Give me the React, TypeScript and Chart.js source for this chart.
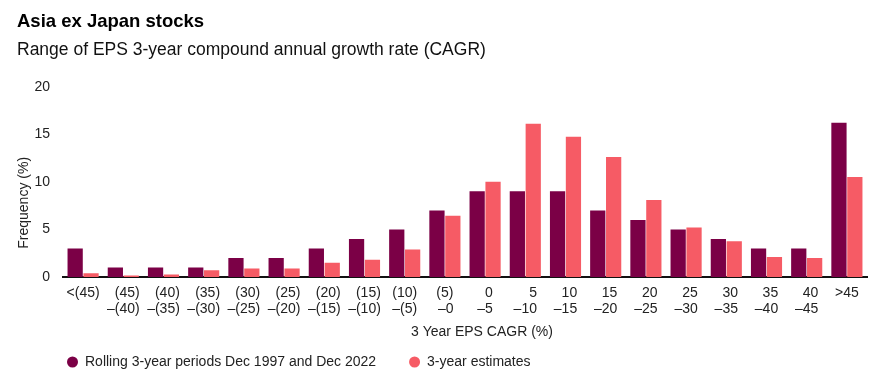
import React, { useEffect, useRef } from "react";
import { Chart, registerables } from "chart.js";

Chart.register(...registerables);

const FONT = "'Liberation Sans', Arial, Helvetica, sans-serif";

const titleText = "Asia ex Japan stocks";
const subtitleText = "Range of EPS 3-year compound annual growth rate (CAGR)";
const xAxisTitle = "3 Year EPS CAGR (%)";
const yAxisTitle = "Frequency (%)";

const categories: string[][] = [
  ["<(45)"],
  ["(45)", "–(40)"],
  ["(40)", "–(35)"],
  ["(35)", "–(30)"],
  ["(30)", "–(25)"],
  ["(25)", "–(20)"],
  ["(20)", "–(15)"],
  ["(15)", "–(10)"],
  ["(10)", "–(5)"],
  ["(5)", "–0"],
  ["0", "–5"],
  ["5", "–10"],
  ["10", "–15"],
  ["15", "–20"],
  ["20", "–25"],
  ["25", "–30"],
  ["30", "–35"],
  ["35", "–40"],
  ["40", "–45"],
  [">45"],
];

const rollingLabel = "Rolling 3-year periods Dec 1997 and Dec 2022";
const rollingValues = [3, 1, 1, 1, 2, 2, 3, 4, 5, 7, 9, 9, 9, 7, 6, 5, 4, 3, 3, 16.2];

const estimatesLabel = "3-year estimates";
const estimatesValues = [0.4, 0.15, 0.25, 0.7, 0.9, 0.9, 1.5, 1.8, 2.9, 6.45, 10, 16.1, 14.75, 12.6, 8.1, 5.2, 3.75, 2.1, 2.0, 10.5];

const yTicks = [0, 5, 10, 15, 20];

const DARK = "#7B0046";
const LIGHT = "#F65B65";
const TEXT = "#222222";

const annotatePlugin = {
  id: "annotate",
  afterDraw(chart: any) {
    const { ctx, chartArea, scales } = chart;
    const xs = scales.x;
    ctx.save();
    // x tick labels (right-aligned lines, centred block)
    ctx.font = `14px ${FONT}`;
    ctx.fillStyle = TEXT;
    ctx.textBaseline = "middle";
    ctx.textAlign = "right";
    categories.forEach((lines, i) => {
      const cx = xs.getPixelForTick(i);
      const w = Math.max(...lines.map((l) => ctx.measureText(l).width));
      lines.forEach((l, j) => {
        ctx.fillText(l, cx + w / 2, chartArea.bottom + 16 + j * 16);
      });
    });
    // x axis title
    ctx.textAlign = "center";
    ctx.fillText(xAxisTitle, (chartArea.left + chartArea.right) / 2 + 17, chartArea.bottom + 55);
    // y axis title
    ctx.save();
    ctx.translate(24, (chartArea.top + chartArea.bottom) / 2 + 21);
    ctx.rotate(-Math.PI / 2);
    ctx.fillText(yAxisTitle, 0, 0);
    ctx.restore();
    // legend
    const ly = 362;
    let lx = chartArea.left + 4;
    ctx.textAlign = "left";
    chart.data.datasets.forEach((ds: any) => {
      ctx.beginPath();
      ctx.fillStyle = ds.backgroundColor;
      ctx.arc(lx + 5.5, ly, 5.5, 0, Math.PI * 2);
      ctx.fill();
      ctx.fillStyle = TEXT;
      ctx.fillText(ds.label, lx + 18, ly);
      lx += 18 + ctx.measureText(ds.label).width + 33;
    });
    ctx.restore();
  },
};

export default function App() {
  const ref = useRef<HTMLCanvasElement>(null);
  useEffect(() => {
    if (!ref.current) return;
    const chart = new Chart(ref.current, {
      type: "bar",
      data: {
        labels: categories.map((c) => c.join(" ")),
        datasets: [
          {
            label: rollingLabel,
            data: rollingValues,
            backgroundColor: DARK,
            categoryPercentage: 0.79,
            barPercentage: 0.96,
          },
          {
            label: estimatesLabel,
            data: estimatesValues,
            backgroundColor: LIGHT,
            categoryPercentage: 0.79,
            barPercentage: 0.96,
          },
        ],
      },
      options: {
        responsive: false,
        animation: false,
        layout: { padding: { left: 17, right: 27, top: 0, bottom: 0 } },
        font: { family: FONT },
        plugins: {
          legend: { display: false },
          tooltip: { enabled: false },
          title: {
            display: true,
            text: titleText,
            align: "start",
            color: "#000",
            font: { family: FONT, size: 18.5, weight: "bold" },
            padding: { top: 10.5, bottom: 0 },
          },
          subtitle: {
            display: true,
            text: subtitleText,
            align: "start",
            color: "#111",
            font: { family: FONT, size: 17.5 },
            padding: { top: 6.5, bottom: 26.5 },
          },
        },
        scales: {
          x: {
            grid: { display: false, drawTicks: false },
            border: { display: true, color: "#111", width: 2 },
            ticks: { display: false },
            afterFit: (s: any) => {
              s.height = 105;
            },
          },
          y: {
            min: 0,
            max: 20,
            grid: { display: false, drawTicks: false },
            border: { display: false },
            afterBuildTicks: (s: any) => {
              s.ticks = yTicks.map((v) => ({ value: v }));
            },
            ticks: {
              padding: 13,
              color: TEXT,
              font: { family: FONT, size: 14 },
            },
            afterFit: (s: any) => {
              s.width = 46;
            },
          },
        },
      },
      plugins: [annotatePlugin],
    } as any);
    return () => chart.destroy();
  }, []);
  return (
    <div style={{ position: "fixed", left: 0, top: 0, width: 894, height: 382, background: "#fff" }}>
      <canvas ref={ref} width={894} height={382} style={{ display: "block" }} />
    </div>
  );
}
